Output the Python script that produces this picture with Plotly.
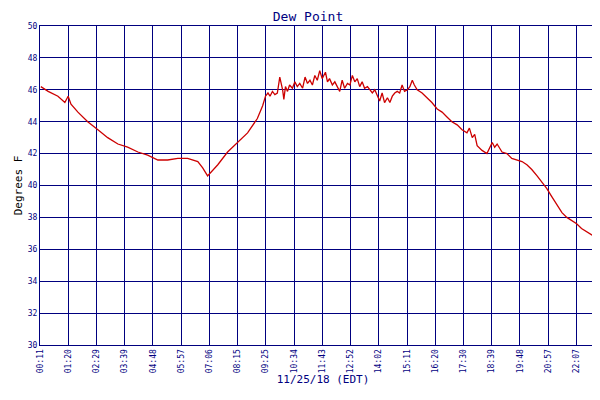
import plotly.graph_objects as go

minutes = [13,31,55,72,80,87,104,128,153,177,202,226,251,275,300,324,349,373,398,410,422,429,447,471,496,520,544,557,564,570,575,581,587,593,599,606,609,613,618,623,630,636,642,648,655,661,667,673,679,685,691,697,703,711,716,721,728,734,740,746,752,758,765,771,777,783,789,795,801,807,814,820,826,832,838,844,850,856,863,869,875,881,887,893,899,905,912,918,924,929,936,948,960,972,985,997,1009,1021,1034,1046,1058,1064,1071,1077,1083,1095,1107,1113,1120,1126,1132,1144,1156,1168,1181,1193,1205,1217,1230,1242,1254,1266,1279,1291,1303,1315,1327,1339,1352,1364,1376,1386,1396]
dew = [46.2,45.9,45.6,45.2,45.6,45.1,44.6,44.0,43.5,43.0,42.6,42.4,42.1,41.9,41.6,41.6,41.7,41.7,41.5,41.1,40.6,40.8,41.3,42.1,42.7,43.3,44.2,45.0,45.6,45.8,45.6,45.9,45.7,45.8,46.8,46.0,45.4,46.2,45.9,46.3,46.1,46.5,46.2,46.4,46.1,46.8,46.4,46.6,46.3,46.9,46.6,47.2,46.7,47.1,46.5,46.7,46.3,46.5,46.2,45.9,46.6,46.1,46.4,46.3,46.9,46.5,46.7,46.2,46.5,46.1,46.2,46.0,45.8,46.0,45.6,45.3,45.8,45.2,45.5,45.2,45.6,45.8,45.9,45.8,46.3,45.9,46.0,46.2,46.6,46.3,46.0,45.8,45.5,45.2,44.8,44.6,44.3,44.0,43.8,43.5,43.3,43.6,43.0,43.2,42.5,42.2,42.0,42.3,42.7,42.4,42.6,42.1,42.0,41.7,41.6,41.5,41.3,41.0,40.6,40.2,39.8,39.3,38.8,38.3,38.0,37.8,37.6,37.3,37.1,36.9,36.8,36.6]

tick_vals = [11,80,149,219,288,357,426,495,565,634,703,772,842,911,980,1049,1119,1188,1257,1327,1396,1398]
tick_text = ["00:11","01:20","02:29","03:39","04:48","05:57","07:06","08:15","09:25","10:34","11:43","12:52","14:02","15:11","16:20","17:30","18:39","19:48","20:57","22:07","23:16","23:18"]
y_ticks = [30,32,34,36,38,40,42,44,46,48,50]

navy = "#00007f"
font = dict(family="DejaVu Sans Mono", size=9, color=navy)
fig = go.Figure(go.Scatter(x=minutes, y=dew, mode="lines", line=dict(color="#cc0000", width=1.3), name="Dew Point"))
fig.update_layout(
    width=600, height=400, margin=dict(l=32, r=2, t=18, b=63, autoexpand=False),
    paper_bgcolor="white", plot_bgcolor="white", font=font,
    title=dict(text="Dew Point", x=0.5, y=0.99, yanchor="top", font=dict(family="DejaVu Sans Mono", size=13, color=navy)),
    showlegend=True,
    legend=dict(orientation="h", x=0.5, xanchor="center", y=-0.215, yanchor="top", font=dict(size=8, color=navy)),
    xaxis=dict(range=[11, 1399], tickvals=tick_vals, ticktext=tick_text, tickangle=-90, automargin=False,
               showgrid=True, gridcolor=navy, gridwidth=1, zeroline=False, showline=True, linecolor=navy, mirror=True,
               title=dict(text="11/25/18 (EDT)", font=dict(size=11, color=navy), standoff=3), tickfont=dict(size=8, color=navy)),
    yaxis=dict(range=[30, 50], tickvals=y_ticks, showgrid=True, gridcolor=navy, gridwidth=1, zeroline=False, automargin=False,
               showline=True, linecolor=navy, mirror=True,
               title=dict(text="Degrees F", font=dict(size=11, color="black"), standoff=2), tickfont=dict(size=8, color=navy)),
)
fig.write_html("out.html")
